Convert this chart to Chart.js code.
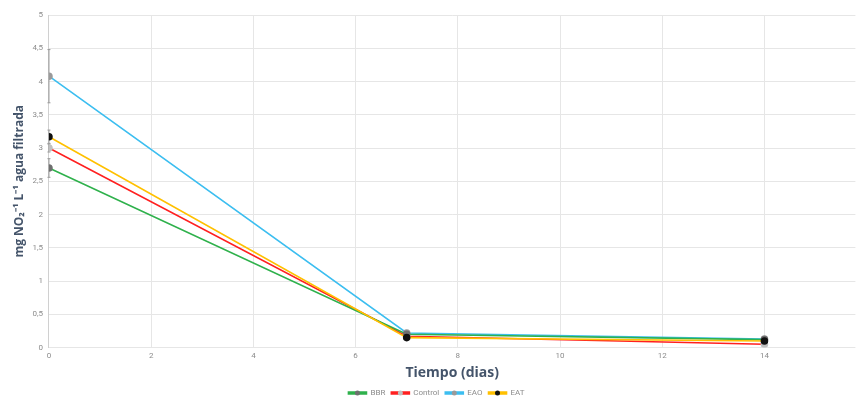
<!DOCTYPE html>
<html>
<head>
<meta charset="utf-8">
<script src="https://cdn.jsdelivr.net/npm/chart.js@4.4.1/dist/chart.umd.min.js"></script>
<style>
  html, body { margin: 0; padding: 0; background: #fff; }
  #wrap { width: 861px; height: 399px; }
</style>
</head>
<body>
<div id="wrap"><canvas id="chart"></canvas></div>
<script>
// days sampled
const days = [0, 7, 14];

// mg NO2 per litre
const bbr = [2.70, 0.20, 0.12];
const control = [3.00, 0.17, 0.05];
const eao = [4.08, 0.22, 0.13];
const eat = [3.17, 0.15, 0.10];

// error bars (+/-) on day 0 only
const bbrErr = [0.14, 0, 0];
const controlErr = [0.06, 0, 0];
const eaoErr = [0.40, 0, 0];
const eatErr = [0.10, 0, 0];

const xTicks = [0, 2, 4, 6, 8, 10, 12, 14];

function toPoints(values) {
  return days.map((d, i) => ({ x: d, y: values[i] }));
}

function makeSet(label, values, err, lineColor, markColor, order) {
  return {
    label: label,
    data: toPoints(values),
    errors: err,
    order: order,
    borderColor: lineColor,
    backgroundColor: lineColor,
    borderWidth: 1.6,
    pointRadius: 3,
    pointBackgroundColor: markColor,
    pointBorderColor: markColor,
    markColor: markColor,
    tension: 0
  };
}

// grey whiskers drawn through the scales
const errorBars = {
  id: "errorBars",
  beforeDatasetsDraw(chart) {
    const { ctx, scales } = chart;
    ctx.save();
    ctx.strokeStyle = "#999999";
    ctx.lineWidth = 1;
    chart.data.datasets.forEach((ds) => {
      ds.data.forEach((p, i) => {
        const e = ds.errors[i];
        if (!e) return;
        const x = scales.x.getPixelForValue(p.x);
        const y1 = scales.y.getPixelForValue(p.y + e);
        const y2 = scales.y.getPixelForValue(p.y - e);
        ctx.beginPath();
        ctx.moveTo(x, y1); ctx.lineTo(x, y2);
        ctx.moveTo(x - 1.5, y1); ctx.lineTo(x + 1.5, y1);
        ctx.moveTo(x - 1.5, y2); ctx.lineTo(x + 1.5, y2);
        ctx.stroke();
      });
    });
    ctx.restore();
  }
};

// put the marker on each legend line
const legendMarks = {
  id: "legendMarks",
  afterDraw(chart) {
    const lg = chart.legend;
    if (!lg || !lg.legendHitBoxes) return;
    const ctx = chart.ctx;
    lg.legendHitBoxes.forEach((box, i) => {
      const item = lg.legendItems[i];
      const ds = chart.data.datasets[item.datasetIndex];
      const cx = box.left + 9;
      const cy = box.top + box.height / 2;
      ctx.save();
      ctx.fillStyle = ds.markColor;
      ctx.beginPath();
      ctx.arc(cx, cy, 2.5, 0, Math.PI * 2);
      ctx.fill();
      ctx.restore();
    });
  }
};

function init() {
  const ctx = document.getElementById("chart");
  const tickColor = "#8c8c8c";
  const titleColor = "#44546a";
  const gridColor = "#e6e6e6";

  new Chart(ctx, {
    type: "line",
    data: {
      datasets: [
        makeSet("BBR", bbr, bbrErr, "#2fb14c", "#6f6f6f", 1),
        makeSet("Control", control, controlErr, "#ff2020", "#c0c0c0", 3),
        makeSet("EAO", eao, eaoErr, "#3cbef0", "#9a9a9a", 2),
        makeSet("EAT", eat, eatErr, "#ffc000", "#111111", 0)
      ]
    },
    options: {
      responsive: true,
      maintainAspectRatio: false,
      animation: false,
      layout: { padding: { left: 12, right: 0, top: 15, bottom: -8 } },
      plugins: {
        legend: {
          position: "bottom",
          labels: {
            color: tickColor,
            font: { family: "Roboto", size: 8 },
            boxWidth: 18,
            boxHeight: 2,
            padding: 6,
            sort: (a, b) => a.datasetIndex - b.datasetIndex
          }
        },
        tooltip: { enabled: false }
      },
      scales: {
        x: {
          type: "linear",
          min: 0,
          max: 15.78,
          afterBuildTicks: (axis) => {
            axis.ticks = xTicks.map((v) => ({ value: v }));
          },
          grid: { color: gridColor, drawTicks: false },
          border: { display: false },
          ticks: { color: tickColor, font: { family: "Roboto", size: 8 }, padding: 4 },
          title: {
            display: true,
            text: "Tiempo (dias)",
            color: titleColor,
            font: { family: "Open Sans", size: 14, weight: "bold" },
            padding: { top: -1, bottom: 2 }
          }
        },
        y: {
          min: 0,
          max: 5,
          grid: { color: gridColor, drawTicks: false },
          border: { color: "#d0d0d0" },
          ticks: {
            stepSize: 0.5,
            color: tickColor,
            font: { family: "Roboto", size: 8 },
            padding: 6,
            callback: (v) => String(v).replace(".", ",")
          },
          title: {
            display: true,
            text: "mg NO\u2082\u207B\u00B9 L\u207B\u00B9 agua filtrada",
            color: titleColor,
            font: { family: "Open Sans", size: 12, weight: "bold" },
            padding: { top: 0, bottom: 0 }
          }
        }
      }
    },
    plugins: [errorBars, legendMarks]
  });
}

document.addEventListener("DOMContentLoaded", init);
</script>
</body>
</html>
